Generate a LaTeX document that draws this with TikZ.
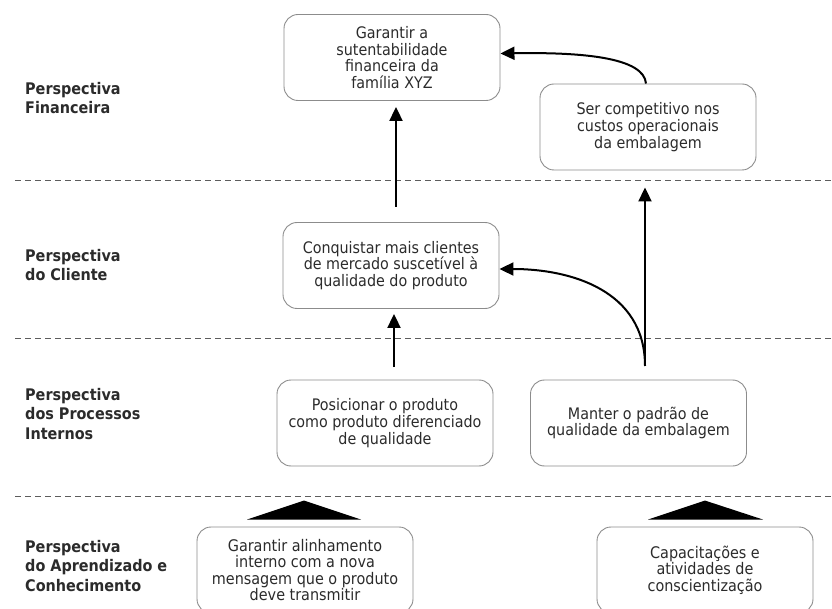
\documentclass[tikz,border=0pt]{standalone}
\usepackage{fontspec}
\setmainfont{DejaVu Sans Condensed}
\usetikzlibrary{arrows.meta,calc}
\definecolor{txt}{HTML}{2B2B2B}
\definecolor{boxline}{HTML}{8C8C8C}
\definecolor{sep}{HTML}{5C5C5C}
\begin{document}
\begin{tikzpicture}[x=1pt,y=-1pt,
  goal/.style={draw=boxline,line width=0.9pt,rounded corners=14pt,
    minimum width=216pt,minimum height=86pt,align=center,text=txt,
    inner sep=0pt,font=\fontsize{15.9}{16.7}\selectfont},
  lowgoal/.style={goal,font=\fontsize{16}{16.4}\selectfont},
  persp/.style={anchor=west,align=left,text=txt,inner sep=0pt,
    font=\bfseries\fontsize{16}{19.5}\selectfont},
  layer/.style={draw=sep,line width=0.9pt,dash pattern=on 6pt off 4pt},
  link/.style={draw=black,line width=2pt,
    -{Triangle[width=13pt,length=14pt]}},
  bigtip/.style={fill=black,draw=none}]
\useasboundingbox (0,0) rectangle (832,609);
\clip (0,0) rectangle (832,609);

% layer separators
\coordinate (s1) at (15,180);
\coordinate (s2) at (15,338);
\coordinate (s3) at (15,496);
\draw[layer] (s1) -- (832,180);
\draw[layer] (s2) -- (832,338);
\draw[layer] (s3) -- (832,496);

% perspective labels
\node[persp] (pf) at (25,98) {Perspectiva\\Financeira};
\node[persp] (pc) at (25,265) {Perspectiva\\do Cliente};
\node[persp] (pp) at (25,414) {Perspectiva\\dos Processos\\Internos};
\node[persp] (pa) at (25,566) {Perspectiva\\do Aprendizado e\\Conhecimento};

% objectives
\node[goal] (top) at (392,57.5) {Garantir a\\sutentabilidade\\financeira da\\família XYZ};
\node[goal] (sc) at (648,127) {Ser competitivo nos\\custos operacionais\\da embalagem};
\node[goal] (conq) at (391,265.5) {Conquistar mais clientes\\de mercado suscetível à\\qualidade do produto};
\node[goal] (pos) at (385,423) {Posicionar o produto\\como produto diferenciado\\de qualidade};
\node[goal] (man) at (638.5,423) {Manter o padrão de\\qualidade da embalagem};
\node[lowgoal] (gal) at (305,570) {Garantir alinhamento\\interno com a nova\\mensagem que o produto\\deve transmitir};
\node[lowgoal] (cap) at (705,570) {Capacitações e\\atividades de\\conscientização};

% cause-and-effect links
\coordinate (cq) at (396,207);
\draw[link,shorten >=6pt] (cq) -- (cq |- top.south);
\coordinate (ps) at (394,367);
\draw[link,shorten >=5pt] (ps) -- (ps |- conq.south);
\coordinate (ms) at (645,366);
\draw[link,shorten >=17pt] (ms) -- (ms |- sc.south);
\draw[link] (ms) .. controls (645,290) and (570,269) .. (conq.east |- 0,269);
\draw[link] ([xshift=-2pt]sc.north) .. controls (644,58) and (585,52) .. ([yshift=4pt]top.east);

% learning-perspective arrowheads
\fill[bigtip] ($(gal.north)+(-58,-7)$) -- ($(gal.north)+(-1,-26)$) -- ($(gal.north)+(56,-7)$) -- cycle;
\fill[bigtip] ($(cap.north)+(-57,-7)$) -- ($(cap.north)+(0,-26)$) -- ($(cap.north)+(58,-7)$) -- cycle;
\end{tikzpicture}
\end{document}
